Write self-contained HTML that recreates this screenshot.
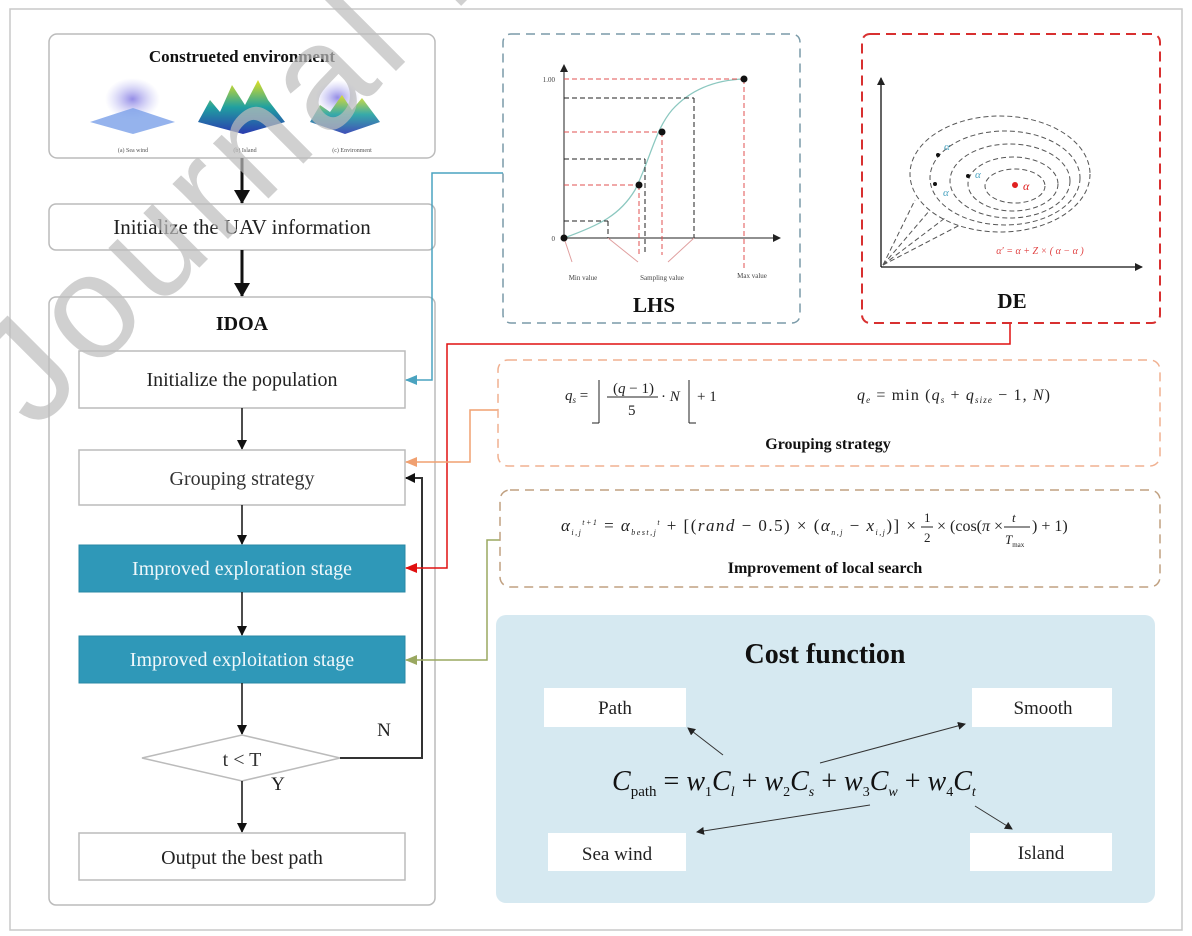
<!DOCTYPE html>
<html><head><meta charset="utf-8"><style>
html,body{margin:0;padding:0;background:#fff;}
svg{display:block;font-family:"Liberation Serif",serif;}
</style></head><body>
<svg width="1192" height="936" viewBox="0 0 1192 936" xmlns="http://www.w3.org/2000/svg">
<defs>
<marker id="ab" markerWidth="10" markerHeight="10" refX="9" refY="5" orient="auto" markerUnits="userSpaceOnUse"><path d="M0,0 L10,5 L0,10 z" fill="#111"/></marker>
<marker id="abig" markerWidth="14" markerHeight="16" refX="13" refY="8" orient="auto" markerUnits="userSpaceOnUse"><path d="M0,0 L14,8 L0,16 z" fill="#111"/></marker>
<marker id="asm" markerWidth="8" markerHeight="8" refX="7" refY="4" orient="auto" markerUnits="userSpaceOnUse"><path d="M0,0 L8,4 L0,8 z" fill="#222"/></marker>
<marker id="ablue" markerWidth="12" markerHeight="10" refX="11" refY="5" orient="auto" markerUnits="userSpaceOnUse"><path d="M0,0 L12,5 L0,10 z" fill="#4aa3c0"/></marker>
<marker id="ared" markerWidth="12" markerHeight="10" refX="11" refY="5" orient="auto" markerUnits="userSpaceOnUse"><path d="M0,0 L12,5 L0,10 z" fill="#e01010"/></marker>
<marker id="aor" markerWidth="12" markerHeight="10" refX="11" refY="5" orient="auto" markerUnits="userSpaceOnUse"><path d="M0,0 L12,5 L0,10 z" fill="#f0a070"/></marker>
<marker id="aol" markerWidth="12" markerHeight="10" refX="11" refY="5" orient="auto" markerUnits="userSpaceOnUse"><path d="M0,0 L12,5 L0,10 z" fill="#9aa860"/></marker>
<radialGradient id="g1" cx="50%" cy="50%" r="50%"><stop offset="0" stop-color="#7a70e0" stop-opacity=".8"/><stop offset="1" stop-color="#b0b0f0" stop-opacity="0"/></radialGradient>
<linearGradient id="g2" x1="0" y1="1" x2="0" y2="0"><stop offset="0" stop-color="#2a3ab0"/><stop offset=".5" stop-color="#20a0a0"/><stop offset="1" stop-color="#e0e020"/></linearGradient>
</defs>

<rect x="10" y="9" width="1172" height="921" fill="#fff" stroke="#c8c8c8" stroke-width="1.5"/>

<!-- Environment -->
<rect x="49" y="34" width="386" height="124" rx="8" fill="#fff" stroke="#bbb" stroke-width="1.5"/>
<text x="242" y="62" font-size="17" font-weight="bold" text-anchor="middle" fill="#111">Construeted environment</text>
<rect x="105" y="78" width="55" height="42" fill="url(#g1)"/>
<path d="M90,122 L133,108 L175,122 L133,134 z" fill="#7aa0e8" opacity=".8"/>
<path d="M198,122 L210,100 L220,112 L232,85 L245,105 L258,80 L268,100 L285,122 L243,134 z" fill="url(#g2)"/>
<rect x="315" y="80" width="45" height="35" fill="url(#g1)"/>
<path d="M310,122 L320,105 L330,112 L342,95 L352,110 L362,98 L380,122 L345,134 z" fill="url(#g2)" opacity=".9"/>
<text x="133" y="152" font-size="6" text-anchor="middle" fill="#555">(a) Sea wind</text>
<text x="245" y="152" font-size="6" text-anchor="middle" fill="#555">(b) Island</text>
<text x="352" y="152" font-size="6" text-anchor="middle" fill="#555">(c) Environment</text>

<line x1="242" y1="158" x2="242" y2="203" stroke="#111" stroke-width="3" marker-end="url(#abig)"/>
<rect x="49" y="204" width="386" height="46" rx="7" fill="#fff" stroke="#bbb" stroke-width="1.5"/>
<text x="242" y="234" font-size="21" text-anchor="middle" fill="#222">Initialize the UAV information</text>
<line x1="242" y1="250" x2="242" y2="296" stroke="#111" stroke-width="3" marker-end="url(#abig)"/>

<!-- IDOA -->
<rect x="49" y="297" width="386" height="608" rx="7" fill="#fff" stroke="#bbb" stroke-width="1.5"/>
<text x="242" y="330" font-size="20" font-weight="bold" text-anchor="middle" fill="#111">IDOA</text>
<rect x="79" y="351" width="326" height="57" fill="#fff" stroke="#bbb" stroke-width="1.5"/>
<text x="242" y="386" font-size="20" text-anchor="middle" fill="#222">Initialize the population</text>
<line x1="242" y1="408" x2="242" y2="449" stroke="#111" stroke-width="1.5" marker-end="url(#ab)"/>
<rect x="79" y="450" width="326" height="55" fill="#fff" stroke="#bbb" stroke-width="1.5"/>
<text x="242" y="485" font-size="20" text-anchor="middle" fill="#333">Grouping strategy</text>
<line x1="242" y1="505" x2="242" y2="544" stroke="#111" stroke-width="1.5" marker-end="url(#ab)"/>
<rect x="79" y="545" width="326" height="47" fill="#2f98b8" stroke="#2a88a6"/>
<text x="242" y="575" font-size="20" text-anchor="middle" fill="#f0f8fb">Improved exploration stage</text>
<line x1="242" y1="592" x2="242" y2="635" stroke="#111" stroke-width="1.5" marker-end="url(#ab)"/>
<rect x="79" y="636" width="326" height="47" fill="#2f98b8" stroke="#2a88a6"/>
<text x="242" y="666" font-size="20" text-anchor="middle" fill="#f0f8fb">Improved exploitation stage</text>
<line x1="242" y1="683" x2="242" y2="734" stroke="#111" stroke-width="1.5" marker-end="url(#ab)"/>
<path d="M142,758 L242,735 L340,758 L242,781 z" fill="#fff" stroke="#bbb" stroke-width="1.5"/>
<text x="242" y="766" font-size="20" text-anchor="middle" fill="#333">t &lt; T</text>
<text x="384" y="736" font-size="19" text-anchor="middle" fill="#222">N</text>
<text x="278" y="790" font-size="19" text-anchor="middle" fill="#222">Y</text>
<path d="M340,758 L422,758 L422,478 L406,478" fill="none" stroke="#333" stroke-width="2" marker-end="url(#ab)"/>
<line x1="242" y1="781" x2="242" y2="832" stroke="#111" stroke-width="1.5" marker-end="url(#ab)"/>
<rect x="79" y="833" width="326" height="47" fill="#fff" stroke="#bbb" stroke-width="1.5"/>
<text x="242" y="864" font-size="20" text-anchor="middle" fill="#222">Output the best path</text>

<!-- connectors -->
<path d="M503,173 L432,173 L432,380 L406,380" fill="none" stroke="#4aa3c0" stroke-width="1.5" marker-end="url(#ablue)"/>
<path d="M1010,323 L1010,344 L447,344 L447,568 L406,568" fill="none" stroke="#e01010" stroke-width="1.5" marker-end="url(#ared)"/>
<path d="M498,410 L470,410 L470,462 L406,462" fill="none" stroke="#f0a070" stroke-width="1.5" marker-end="url(#aor)"/>
<path d="M500,540 L487,540 L487,660 L406,660" fill="none" stroke="#9aa860" stroke-width="1.5" marker-end="url(#aol)"/>

<!-- LHS -->
<rect x="503" y="34" width="297" height="289" rx="8" fill="none" stroke="#7a9aa8" stroke-width="1.5" stroke-dasharray="9,6"/>
<g stroke-width="1" fill="none">
<line x1="564" y1="238" x2="564" y2="65" stroke="#222" marker-end="url(#asm)"/>
<line x1="564" y1="238" x2="780" y2="238" stroke="#222" marker-end="url(#asm)"/>
<path d="M564,238 C600,225 620,215 635,190 C650,160 655,130 672,110 C690,90 715,80 744,79" stroke="#8cc8c0" stroke-width="1.3"/>
<g stroke-dasharray="5,3">
<line x1="564" y1="79" x2="744" y2="79" stroke="#e05050"/>
<line x1="564" y1="98" x2="694" y2="98" stroke="#222"/>
<line x1="564" y1="132" x2="662" y2="132" stroke="#e05050"/>
<line x1="564" y1="159" x2="645" y2="159" stroke="#222"/>
<line x1="564" y1="185" x2="639" y2="185" stroke="#e05050"/>
<line x1="564" y1="221" x2="608" y2="221" stroke="#222"/>
<line x1="744" y1="79" x2="744" y2="270" stroke="#e05050"/>
<line x1="694" y1="98" x2="694" y2="238" stroke="#222"/>
<line x1="662" y1="132" x2="662" y2="255" stroke="#e05050"/>
<line x1="645" y1="159" x2="645" y2="255" stroke="#222"/>
<line x1="639" y1="185" x2="639" y2="255" stroke="#e05050"/>
<line x1="608" y1="221" x2="608" y2="238" stroke="#222"/>
</g>
<path d="M564,238 L572,262 M608,238 L638,262 M694,238 L668,262" stroke="#e0a0a0"/>
</g>
<g fill="#111"><circle cx="564" cy="238" r="3.5"/><circle cx="744" cy="79" r="3.5"/><circle cx="662" cy="132" r="3.5"/><circle cx="639" cy="185" r="3.5"/></g>
<text x="555" y="82" font-size="7" text-anchor="end" fill="#444">1.00</text>
<text x="555" y="241" font-size="7" text-anchor="end" fill="#444">0</text>
<text x="583" y="280" font-size="7" text-anchor="middle" fill="#444">Min value</text>
<text x="662" y="280" font-size="7" text-anchor="middle" fill="#444">Sampling value</text>
<text x="752" y="278" font-size="7" text-anchor="middle" fill="#444">Max value</text>
<text x="654" y="312" font-size="21" font-weight="bold" text-anchor="middle" fill="#111">LHS</text>

<!-- DE -->
<rect x="862" y="34" width="298" height="289" rx="8" fill="none" stroke="#d83030" stroke-width="2" stroke-dasharray="10,6"/>
<line x1="881" y1="267" x2="881" y2="78" stroke="#111" stroke-width="1.3" marker-end="url(#asm)"/>
<line x1="881" y1="267" x2="1142" y2="267" stroke="#111" stroke-width="1.3" marker-end="url(#asm)"/>
<g fill="none" stroke="#555" stroke-width="1" stroke-dasharray="5,3">
<ellipse cx="1000" cy="174" rx="90" ry="58"/>
<ellipse cx="1005" cy="178" rx="75" ry="47"/>
<ellipse cx="1010" cy="181" rx="60" ry="37"/>
<ellipse cx="1013" cy="184" rx="45" ry="27"/>
<ellipse cx="1015" cy="186" rx="30" ry="17"/>
<line x1="883" y1="265" x2="915" y2="200"/><line x1="883" y1="265" x2="930" y2="210"/><line x1="883" y1="265" x2="945" y2="218"/><line x1="883" y1="265" x2="960" y2="225"/>
</g>
<g fill="#111"><circle cx="938" cy="155" r="2"/><circle cx="935" cy="184" r="2"/><circle cx="968" cy="176" r="2"/></g>
<circle cx="1015" cy="185" r="3" fill="#e02020"/>
<text x="944" y="150" font-size="11" fill="#4aa3c0" font-style="italic">α</text>
<text x="975" y="178" font-size="11" fill="#4aa3c0" font-style="italic">α</text>
<text x="943" y="196" font-size="11" fill="#4aa3c0" font-style="italic">α</text>
<text x="1023" y="190" font-size="12" fill="#e02020" font-style="italic">α</text>
<text x="1040" y="254" font-size="10" text-anchor="middle" fill="#e04040" font-style="italic">α′ = α + Z × ( α − α )</text>
<text x="1012" y="308" font-size="21" font-weight="bold" text-anchor="middle" fill="#111">DE</text>

<!-- Grouping strategy -->
<rect x="498" y="360" width="662" height="106" rx="10" fill="none" stroke="#f0b090" stroke-width="1.5" stroke-dasharray="9,6"/>
<g font-size="15" fill="#222" font-style="italic">
<text x="565" y="400">q<tspan font-size="9" dy="3">s</tspan><tspan dy="-3" font-style="normal"> =</tspan></text>
<text x="613" y="393" font-style="normal">(<tspan font-style="italic">q</tspan> − 1)</text>
<line x1="607" y1="397" x2="658" y2="397" stroke="#222"/>
<text x="628" y="415" font-style="normal">5</text>
<text x="661" y="401" font-style="normal">· <tspan font-style="italic">N</tspan></text>
<path d="M599,380 L599,423 M592,423 L599,423 M689,380 L689,423 M689,423 L696,423" stroke="#222" fill="none"/>
<text x="697" y="401" font-style="normal">+ 1</text>
<text x="857" y="400" font-size="16" textLength="193" lengthAdjust="spacing">q<tspan font-size="9" dy="3">e</tspan><tspan dy="-3" font-style="normal"> = min (</tspan>q<tspan font-size="9" dy="3">s</tspan><tspan dy="-3" font-style="normal"> + </tspan>q<tspan font-size="9" dy="3">size</tspan><tspan dy="-3" font-style="normal"> − 1, </tspan>N<tspan font-style="normal">)</tspan></text>
</g>
<text x="828" y="449" font-size="16" font-weight="bold" text-anchor="middle" fill="#111">Grouping strategy</text>

<!-- Local search -->
<rect x="500" y="490" width="660" height="97" rx="10" fill="none" stroke="#c0a080" stroke-width="1.5" stroke-dasharray="9,6"/>
<text x="561" y="531" font-size="17" fill="#222" font-style="italic" textLength="355" lengthAdjust="spacing">α<tspan font-size="8" dy="4">i,j</tspan><tspan font-size="8" dy="-10">t+1</tspan><tspan dy="6" font-style="normal"> = </tspan>α<tspan font-size="8" dy="4">best,j</tspan><tspan font-size="8" dy="-10">t</tspan><tspan dy="6" font-style="normal"> + [(</tspan>rand<tspan font-style="normal"> − 0.5) × (</tspan>α<tspan font-size="8" dy="4">n,j</tspan><tspan dy="-4" font-style="normal"> − </tspan>x<tspan font-size="8" dy="4">i,j</tspan><tspan dy="-4" font-style="normal">)] ×</tspan></text>
<text x="924" y="522" font-size="13" fill="#222">1</text>
<line x1="921" y1="527" x2="933" y2="527" stroke="#222"/>
<text x="924" y="542" font-size="13" fill="#222">2</text>
<text x="937" y="531" font-size="16" fill="#222">× (cos(<tspan font-style="italic">π</tspan> ×</text>
<text x="1012" y="522" font-size="13" fill="#222" font-style="italic">t</text>
<line x1="1004" y1="527" x2="1030" y2="527" stroke="#222"/>
<text x="1005" y="544" font-size="13" fill="#222" font-style="italic">T<tspan font-size="7" dy="3" font-style="normal">max</tspan></text>
<text x="1032" y="531" font-size="16" fill="#222">) + 1)</text>
<text x="825" y="573" font-size="16" font-weight="bold" text-anchor="middle" fill="#111">Improvement of local search</text>

<!-- Cost function -->
<rect x="496" y="615" width="659" height="288" rx="10" fill="#d6e9f1"/>
<text x="825" y="663" font-size="28" font-weight="bold" text-anchor="middle" fill="#111">Cost function</text>
<rect x="544" y="688" width="142" height="39" fill="#fff"/>
<text x="615" y="714" font-size="19" text-anchor="middle" fill="#222">Path</text>
<rect x="972" y="688" width="140" height="39" fill="#fff"/>
<text x="1043" y="714" font-size="19" text-anchor="middle" fill="#222">Smooth</text>
<rect x="548" y="833" width="138" height="38" fill="#fff"/>
<text x="617" y="860" font-size="19" text-anchor="middle" fill="#222">Sea wind</text>
<rect x="970" y="833" width="142" height="38" fill="#fff"/>
<text x="1041" y="859" font-size="19" text-anchor="middle" fill="#222">Island</text>
<text x="612" y="790" font-size="28" fill="#111" font-style="italic">C<tspan font-size="15" dy="6" font-style="normal">path</tspan><tspan dy="-6" font-style="normal"> = </tspan>w<tspan font-size="14" dy="6" font-style="normal">1</tspan><tspan dy="-6">C</tspan><tspan font-size="14" dy="6">l</tspan><tspan dy="-6" font-style="normal"> + </tspan>w<tspan font-size="14" dy="6" font-style="normal">2</tspan><tspan dy="-6">C</tspan><tspan font-size="14" dy="6">s</tspan><tspan dy="-6" font-style="normal"> + </tspan>w<tspan font-size="14" dy="6" font-style="normal">3</tspan><tspan dy="-6">C</tspan><tspan font-size="14" dy="6">w</tspan><tspan dy="-6" font-style="normal"> + </tspan>w<tspan font-size="14" dy="6" font-style="normal">4</tspan><tspan dy="-6">C</tspan><tspan font-size="14" dy="6">t</tspan></text>
<g stroke="#333" stroke-width="1">
<line x1="723" y1="755" x2="688" y2="728" marker-end="url(#asm)"/>
<line x1="820" y1="763" x2="965" y2="724" marker-end="url(#asm)"/>
<line x1="870" y1="805" x2="697" y2="832" marker-end="url(#asm)"/>
<line x1="975" y1="806" x2="1012" y2="829" marker-end="url(#asm)"/>
</g>

<!-- watermark -->
<text transform="translate(35,432) rotate(-45)" font-family="Liberation Sans, sans-serif" font-size="148" letter-spacing="8" fill="#bdbdbd" opacity="0.7">Journal Pre-proof</text>
</svg>
</body></html>
